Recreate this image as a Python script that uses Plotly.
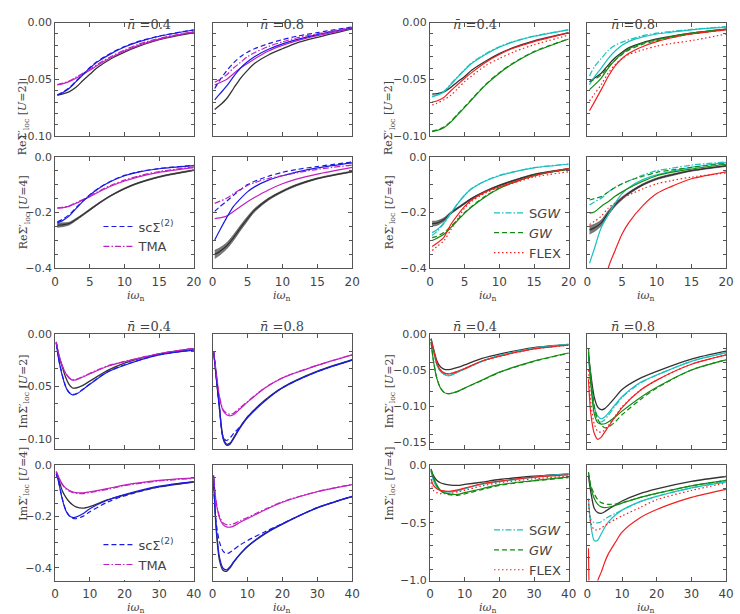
import plotly.graph_objects as go

# ---------------- frequency grids ----------------
XR = [0.31, 1, 2, 3, 4, 5, 6, 8, 10, 12, 15, 20]
XI = [0.31, 1, 2, 3, 4, 5, 6, 8, 10, 15, 20, 30, 40]

# ---------------- Re Sigma, U=2, left group ----------------
re_u2_n04_exact = [-0.0638, -0.063, -0.061, -0.057, -0.051, -0.0455, -0.040, -0.032, -0.026, -0.021, -0.0150, -0.0088]
re_u2_n04_blue = [-0.064, -0.062, -0.058, -0.052, -0.046, -0.040, -0.035, -0.0275, -0.0215, -0.017, -0.012, -0.0065]
re_u2_n04_sc2 = [-0.0635, -0.0615, -0.0575, -0.0515, -0.0455, -0.0395, -0.0345, -0.027, -0.021, -0.0165, -0.0118, -0.0063]
re_u2_n04_mag = [-0.0548, -0.054, -0.052, -0.049, -0.0455, -0.042, -0.038, -0.031, -0.025, -0.020, -0.0145, -0.0082]
re_u2_n04_tma = [-0.0545, -0.0535, -0.0515, -0.048, -0.0445, -0.041, -0.037, -0.030, -0.024, -0.019, -0.0138, -0.0078]

re_u2_n08_exact = [-0.0765, -0.073, -0.067, -0.058, -0.049, -0.042, -0.036, -0.0285, -0.023, -0.018, -0.013, -0.0055]
re_u2_n08_blue = [-0.068, -0.063, -0.056, -0.0475, -0.040, -0.0345, -0.030, -0.0235, -0.0187, -0.015, -0.0105, -0.0045]
re_u2_n08_sc2 = [-0.058, -0.051, -0.0425, -0.0355, -0.030, -0.026, -0.023, -0.0185, -0.015, -0.012, -0.0088, -0.0037]
re_u2_n08_mag = [-0.055, -0.053, -0.050, -0.045, -0.040, -0.036, -0.032, -0.025, -0.020, -0.016, -0.0115, -0.005]
re_u2_n08_tma = [-0.0525, -0.050, -0.046, -0.040, -0.035, -0.030, -0.0265, -0.021, -0.017, -0.0135, -0.0098, -0.0043]

# ---------------- Re Sigma, U=4, left group ----------------
re_u4_n04_exact = [-0.245, -0.244, -0.240, -0.225, -0.208, -0.190, -0.172, -0.140, -0.114, -0.094, -0.072, -0.048]
re_u4_n04_band = [0.008, 0.007, 0.005, 0.004, 0.003, 0.003, 0.0025, 0.002, 0.002, 0.002, 0.002, 0.002]
re_u4_n04_blue = [-0.237, -0.230, -0.213, -0.186, -0.160, -0.138, -0.118, -0.089, -0.068, -0.055, -0.043, -0.032]
re_u4_n04_sc2 = [-0.233, -0.225, -0.208, -0.183, -0.158, -0.136, -0.117, -0.088, -0.067, -0.054, -0.042, -0.031]
re_u4_n04_mag = [-0.184, -0.183, -0.178, -0.167, -0.155, -0.143, -0.130, -0.106, -0.087, -0.072, -0.056, -0.039]
re_u4_n04_tma = [-0.183, -0.181, -0.176, -0.165, -0.153, -0.140, -0.127, -0.103, -0.084, -0.069, -0.053, -0.036]

re_u4_n08_exact = [-0.350, -0.340, -0.320, -0.290, -0.255, -0.222, -0.192, -0.152, -0.124, -0.102, -0.078, -0.053]
re_u4_n08_band = [0.015, 0.013, 0.011, 0.010, 0.009, 0.008, 0.006, 0.004, 0.003, 0.003, 0.002, 0.002]
re_u4_n08_blue = [-0.298, -0.265, -0.219, -0.178, -0.150, -0.126, -0.108, -0.084, -0.068, -0.055, -0.040, -0.022]
re_u4_n08_sc2 = [-0.196, -0.180, -0.160, -0.138, -0.118, -0.100, -0.088, -0.070, -0.056, -0.046, -0.035, -0.019]
re_u4_n08_mag = [-0.222, -0.219, -0.213, -0.196, -0.178, -0.161, -0.146, -0.119, -0.097, -0.080, -0.062, -0.038]
re_u4_n08_tma = [-0.167, -0.160, -0.149, -0.132, -0.117, -0.103, -0.093, -0.078, -0.068, -0.058, -0.045, -0.030]

# ---------------- Re Sigma, U=2, right group ----------------
re_u2_n04r_exact = [-0.063, -0.0625, -0.061, -0.057, -0.052, -0.0474, -0.042, -0.034, -0.0273, -0.022, -0.016, -0.0088]
re_u2_n04r_cyan = [-0.0655, -0.064, -0.061, -0.0546, -0.048, -0.0417, -0.036, -0.028, -0.0216, -0.017, -0.012, -0.0063]
re_u2_n04r_sgw = [-0.065, -0.0635, -0.0605, -0.054, -0.0475, -0.0412, -0.0355, -0.0275, -0.0212, -0.0167, -0.0118, -0.0062]
re_u2_n04r_green = [-0.096, -0.095, -0.0925, -0.0876, -0.081, -0.0747, -0.068, -0.055, -0.0445, -0.036, -0.0259, -0.0144]
re_u2_n04r_gw = [-0.0955, -0.0945, -0.092, -0.087, -0.0805, -0.074, -0.0675, -0.0545, -0.044, -0.0355, -0.0255, -0.0142]
re_u2_n04r_red = [-0.070, -0.069, -0.066, -0.060, -0.0545, -0.049, -0.044, -0.035, -0.028, -0.0225, -0.0167, -0.009]
re_u2_n04r_flex = [-0.0725, -0.071, -0.068, -0.064, -0.058, -0.052, -0.047, -0.038, -0.0316, -0.026, -0.0195, -0.011]

re_u2_n08r_exact = [-0.052, -0.049, -0.0445, -0.0374, -0.031, -0.026, -0.022, -0.0175, -0.0144, -0.012, -0.0092, -0.0057]
re_u2_n08r_cyan = [-0.0546, -0.048, -0.040, -0.0316, -0.025, -0.020, -0.0165, -0.0125, -0.010, -0.0085, -0.0063, -0.004]
re_u2_n08r_sgw = [-0.047, -0.039, -0.0316, -0.0244, -0.020, -0.0172, -0.015, -0.0115, -0.0092, -0.0078, -0.006, -0.0034]
re_u2_n08r_green = [-0.059, -0.055, -0.0488, -0.040, -0.033, -0.0273, -0.023, -0.018, -0.015, -0.0125, -0.0092, -0.0057]
re_u2_n08r_gw = [-0.052, -0.050, -0.046, -0.0388, -0.033, -0.028, -0.024, -0.019, -0.016, -0.0133, -0.010, -0.0063]
re_u2_n08r_red = [-0.0776, -0.070, -0.059, -0.0474, -0.038, -0.0316, -0.027, -0.021, -0.0167, -0.0135, -0.010, -0.0063]
re_u2_n08r_flex = [-0.069, -0.063, -0.0546, -0.0445, -0.037, -0.0316, -0.028, -0.024, -0.0207, -0.0185, -0.0158, -0.010]

# ---------------- Re Sigma, U=4, right group ----------------
re_u4_n04r_exact = [-0.240, -0.238, -0.225, -0.202, -0.184, -0.167, -0.150, -0.124, -0.103, -0.086, -0.064, -0.044]
re_u4_n04r_band = [0.009, 0.008, 0.006, 0.004, 0.003, 0.003, 0.0025, 0.002, 0.002, 0.002, 0.002, 0.002]
re_u4_n04r_cyan = [-0.272, -0.262, -0.237, -0.202, -0.168, -0.138, -0.115, -0.087, -0.068, -0.055, -0.040, -0.027]
re_u4_n04r_sgw = [-0.282, -0.268, -0.240, -0.203, -0.168, -0.137, -0.114, -0.086, -0.067, -0.054, -0.039, -0.026]
re_u4_n04r_green = [-0.300, -0.292, -0.278, -0.254, -0.228, -0.202, -0.180, -0.143, -0.114, -0.093, -0.068, -0.044]
re_u4_n04r_gw = [-0.290, -0.285, -0.272, -0.250, -0.225, -0.200, -0.178, -0.141, -0.112, -0.091, -0.067, -0.043]
re_u4_n04r_red = [-0.322, -0.310, -0.289, -0.243, -0.208, -0.178, -0.155, -0.126, -0.108, -0.092, -0.068, -0.042]
re_u4_n04r_flex = [-0.336, -0.322, -0.301, -0.262, -0.222, -0.184, -0.160, -0.130, -0.110, -0.095, -0.073, -0.054]

re_u4_n08r_exact = [-0.262, -0.255, -0.237, -0.202, -0.172, -0.149, -0.130, -0.100, -0.079, -0.066, -0.050, -0.033]
re_u4_n08r_band = [0.015, 0.013, 0.010, 0.008, 0.006, 0.005, 0.004, 0.003, 0.003, 0.003, 0.002, 0.002]
re_u4_n08r_cyan = [-0.382, -0.330, -0.254, -0.208, -0.166, -0.132, -0.110, -0.082, -0.065, -0.053, -0.038, -0.021]
re_u4_n08r_sgw = [-0.173, -0.162, -0.149, -0.126, -0.110, -0.097, -0.086, -0.066, -0.050, -0.042, -0.030, -0.019]
re_u4_n08r_green = [-0.202, -0.198, -0.178, -0.161, -0.142, -0.126, -0.112, -0.088, -0.068, -0.056, -0.044, -0.027]
re_u4_n08r_gw = [-0.155, -0.150, -0.143, -0.126, -0.110, -0.097, -0.086, -0.070, -0.056, -0.048, -0.038, -0.024]
re_u4_n08r_red = [-0.95, -0.78, -0.56, -0.40, -0.336, -0.277, -0.235, -0.175, -0.132, -0.108, -0.079, -0.054]
re_u4_n08r_flex = [-0.243, -0.232, -0.213, -0.184, -0.165, -0.149, -0.137, -0.115, -0.097, -0.086, -0.073, -0.058]

# ---------------- Im Sigma, U=2, left group ----------------
im_u2_n04_exact = [-0.0078, -0.020, -0.031, -0.041, -0.048, -0.0515, -0.0515, -0.049, -0.045, -0.035, -0.0278, -0.019, -0.014]
im_u2_n04_blue = [-0.0085, -0.024, -0.039, -0.050, -0.056, -0.058, -0.0575, -0.053, -0.048, -0.0365, -0.0298, -0.020, -0.0155]
im_u2_n04_sc2 = [-0.0085, -0.0235, -0.0385, -0.0495, -0.0555, -0.0575, -0.057, -0.0528, -0.0478, -0.0362, -0.0295, -0.0198, -0.0153]
im_u2_n04_mag = [-0.0075, -0.019, -0.030, -0.0375, -0.042, -0.044, -0.0438, -0.041, -0.038, -0.031, -0.0265, -0.019, -0.014]
im_u2_n04_tma = [-0.0075, -0.0188, -0.0298, -0.037, -0.0415, -0.0435, -0.0433, -0.0405, -0.0375, -0.0305, -0.0262, -0.0188, -0.0138]

im_u2_n08_exact = [-0.017, -0.040, -0.072, -0.098, -0.105, -0.104, -0.099, -0.088, -0.079, -0.063, -0.051, -0.0355, -0.0245]
im_u2_n08_blue = [-0.017, -0.039, -0.070, -0.100, -0.106, -0.105, -0.100, -0.089, -0.080, -0.064, -0.0516, -0.036, -0.025]
im_u2_n08_sc2 = [-0.017, -0.039, -0.072, -0.098, -0.1015, -0.099, -0.095, -0.088, -0.079, -0.0635, -0.0512, -0.0358, -0.0248]
im_u2_n08_mag = [-0.017, -0.036, -0.061, -0.073, -0.077, -0.078, -0.077, -0.071, -0.065, -0.0516, -0.042, -0.030, -0.020]
im_u2_n08_tma = [-0.017, -0.0355, -0.060, -0.072, -0.0755, -0.0765, -0.0755, -0.070, -0.0645, -0.0512, -0.0418, -0.0298, -0.0198]

# ---------------- Im Sigma, U=4, left group ----------------
im_u4_n04_exact = [-0.028, -0.054, -0.098, -0.124, -0.142, -0.155, -0.163, -0.168, -0.162, -0.136, -0.117, -0.085, -0.066]
im_u4_n04_blue = [-0.034, -0.066, -0.130, -0.175, -0.197, -0.204, -0.203, -0.190, -0.170, -0.137, -0.115, -0.082, -0.064]
im_u4_n04_sc2 = [-0.034, -0.066, -0.128, -0.172, -0.196, -0.207, -0.209, -0.200, -0.182, -0.145, -0.120, -0.085, -0.066]
im_u4_n04_mag = [-0.025, -0.047, -0.073, -0.089, -0.098, -0.104, -0.107, -0.108, -0.104, -0.092, -0.078, -0.060, -0.050]
im_u4_n04_tma = [-0.025, -0.047, -0.075, -0.091, -0.101, -0.107, -0.110, -0.111, -0.107, -0.095, -0.080, -0.062, -0.052]

im_u4_n08_exact = [-0.050, -0.245, -0.372, -0.410, -0.414, -0.400, -0.380, -0.346, -0.318, -0.268, -0.230, -0.167, -0.123]
im_u4_n08_blue = [-0.040, -0.230, -0.360, -0.402, -0.408, -0.396, -0.377, -0.344, -0.316, -0.266, -0.229, -0.166, -0.122]
im_u4_n08_sc2 = [-0.080, -0.220, -0.300, -0.335, -0.345, -0.340, -0.330, -0.310, -0.294, -0.260, -0.228, -0.166, -0.122]
im_u4_n08_mag = [-0.047, -0.143, -0.206, -0.232, -0.241, -0.242, -0.238, -0.222, -0.209, -0.175, -0.145, -0.104, -0.076]
im_u4_n08_tma = [-0.047, -0.140, -0.200, -0.225, -0.232, -0.232, -0.229, -0.216, -0.204, -0.172, -0.143, -0.103, -0.075]

# ---------------- Im Sigma, U=2, right group ----------------
im_u2_n04r_exact = [-0.0066, -0.020, -0.0376, -0.0456, -0.0487, -0.0496, -0.049, -0.0465, -0.043, -0.034, -0.0279, -0.019, -0.0146]
im_u2_n04r_cyan = [-0.007, -0.023, -0.043, -0.052, -0.056, -0.058, -0.0575, -0.053, -0.0487, -0.038, -0.030, -0.020, -0.0146]
im_u2_n04r_sgw = [-0.007, -0.0228, -0.0425, -0.0515, -0.0555, -0.0575, -0.057, -0.0528, -0.0485, -0.0378, -0.0298, -0.0198, -0.0145]
im_u2_n04r_green = [-0.011, -0.0376, -0.062, -0.075, -0.081, -0.0827, -0.0825, -0.0796, -0.075, -0.064, -0.053, -0.0376, -0.0265]
im_u2_n04r_gw = [-0.011, -0.037, -0.0615, -0.0745, -0.0805, -0.0825, -0.0823, -0.0796, -0.0752, -0.0645, -0.0535, -0.038, -0.0268]
im_u2_n04r_red = [-0.007, -0.022, -0.041, -0.050, -0.054, -0.0553, -0.055, -0.0518, -0.048, -0.0376, -0.031, -0.0208, -0.0155]
im_u2_n04r_flex = [-0.007, -0.022, -0.0405, -0.0495, -0.0535, -0.055, -0.0548, -0.052, -0.0482, -0.0378, -0.0312, -0.021, -0.0158]

im_u2_n08r_exact = [-0.027, -0.0565, -0.088, -0.1015, -0.105, -0.1035, -0.099, -0.088, -0.077, -0.062, -0.052, -0.035, -0.024]
im_u2_n08r_cyan = [-0.029, -0.0655, -0.1015, -0.114, -0.1175, -0.115, -0.110, -0.098, -0.087, -0.068, -0.057, -0.038, -0.026]
im_u2_n08r_sgw = [-0.029, -0.068, -0.106, -0.119, -0.122, -0.119, -0.113, -0.100, -0.088, -0.069, -0.057, -0.038, -0.026]
im_u2_n08r_green = [-0.025, -0.070, -0.111, -0.123, -0.125, -0.1245, -0.122, -0.115, -0.107, -0.089, -0.074, -0.050, -0.036]
im_u2_n08r_gw = [-0.020, -0.060, -0.100, -0.118, -0.126, -0.130, -0.129, -0.122, -0.112, -0.092, -0.075, -0.050, -0.036]
im_u2_n08r_red = [-0.063, -0.111, -0.138, -0.146, -0.143, -0.136, -0.129, -0.115, -0.102, -0.079, -0.064, -0.042, -0.029]
im_u2_n08r_flex = [-0.050, -0.095, -0.125, -0.135, -0.136, -0.133, -0.127, -0.114, -0.101, -0.079, -0.064, -0.042, -0.029]

# ---------------- Im Sigma, U=4, right group ----------------
im_u4_n04r_exact = [-0.048, -0.091, -0.134, -0.153, -0.163, -0.170, -0.174, -0.176, -0.168, -0.148, -0.125, -0.097, -0.077]
im_u4_n04r_cyan = [-0.048, -0.134, -0.190, -0.219, -0.230, -0.233, -0.232, -0.222, -0.205, -0.165, -0.142, -0.105, -0.077]
im_u4_n04r_sgw = [-0.050, -0.130, -0.185, -0.215, -0.228, -0.232, -0.231, -0.221, -0.204, -0.164, -0.141, -0.104, -0.078]
im_u4_n04r_green = [-0.034, -0.105, -0.176, -0.219, -0.238, -0.247, -0.252, -0.254, -0.239, -0.205, -0.170, -0.134, -0.105]
im_u4_n04r_gw = [-0.034, -0.105, -0.176, -0.220, -0.242, -0.253, -0.258, -0.262, -0.250, -0.212, -0.176, -0.137, -0.108]
im_u4_n04r_red = [-0.119, -0.176, -0.205, -0.219, -0.224, -0.227, -0.226, -0.215, -0.199, -0.162, -0.139, -0.105, -0.085]
im_u4_n04r_flex = [-0.148, -0.219, -0.239, -0.247, -0.248, -0.247, -0.244, -0.232, -0.219, -0.180, -0.153, -0.119, -0.097]

im_u4_n08r_exact = [-0.093, -0.234, -0.376, -0.412, -0.418, -0.404, -0.384, -0.347, -0.311, -0.249, -0.206, -0.141, -0.099]
im_u4_n08r_cyan = [-0.290, -0.520, -0.655, -0.650, -0.595, -0.540, -0.495, -0.435, -0.390, -0.319, -0.271, -0.198, -0.145]
im_u4_n08r_sgw = [-0.330, -0.470, -0.500, -0.500, -0.490, -0.470, -0.450, -0.420, -0.390, -0.320, -0.271, -0.198, -0.145]
im_u4_n08r_green = [-0.065, -0.192, -0.291, -0.340, -0.362, -0.368, -0.365, -0.350, -0.330, -0.282, -0.245, -0.180, -0.133]
im_u4_n08r_gw = [-0.060, -0.180, -0.250, -0.300, -0.325, -0.336, -0.340, -0.337, -0.325, -0.282, -0.245, -0.180, -0.133]
im_u4_n08r_red = [-0.72, -1.35, -1.20, -1.00, -0.927, -0.842, -0.771, -0.672, -0.580, -0.460, -0.385, -0.280, -0.210]
im_u4_n08r_flex = [-0.300, -0.500, -0.560, -0.560, -0.545, -0.525, -0.505, -0.470, -0.440, -0.370, -0.300, -0.220, -0.155]

# ---------------- styling ----------------
C_EXACT = "#333333"
C_BLUE = "#1a1ae6"
C_MAG = "#c020c0"
C_CYAN = "#19c0c0"
C_GREEN = "#138a13"
C_RED = "#f02020"
DASH = "5px,3px"
DASHDOT = "6px,2px,1.5px,2px"
DOT = "1.5px,2.5px"
FRAME = "#555555"
TXT = "#444444"

W, H = 740, 614
COLS_PX = [(52, 193), (212, 354), (433, 574), (593, 734)]
ROWS_PX = [(17, 133), (154, 268), (335, 453), (469, 587)]

fig = go.Figure()


def ax_id(row, col):
    n = row * 4 + col + 1
    return ("x" if n == 1 else f"x{n}"), ("y" if n == 1 else f"y{n}")


def line(row, col, x, y, color, dash="solid", width=1.2, name=None, legend=None):
    xa, ya = ax_id(row, col)
    kw = dict(legend=legend) if legend else {}
    fig.add_trace(go.Scatter(
        x=x, y=y, xaxis=xa, yaxis=ya, mode="lines",
        line=dict(color=color, width=width, dash=dash, shape="spline", smoothing=0.8),
        name=name or "", showlegend=legend is not None, hoverinfo="skip", **kw))


def band(row, col, x, y, hw):
    xa, ya = ax_id(row, col)
    lo = [a - b for a, b in zip(y, hw)]
    hi = [a + b for a, b in zip(y, hw)]
    fig.add_trace(go.Scatter(x=x, y=lo, xaxis=xa, yaxis=ya, mode="lines",
                             line=dict(color="rgba(60,60,60,0.9)", width=0.6, shape="spline", smoothing=0.8),
                             showlegend=False, hoverinfo="skip"))
    fig.add_trace(go.Scatter(x=x, y=hi, xaxis=xa, yaxis=ya, mode="lines", fill="tonexty",
                             fillcolor="rgba(90,90,90,0.8)",
                             line=dict(color="rgba(60,60,60,0.9)", width=0.6, shape="spline", smoothing=0.8),
                             showlegend=False, hoverinfo="skip"))


def left_panel(row, col, x, exact, blue, sc2, mag, tma, hw=None, leg=None):
    if hw:
        band(row, col, x, exact, hw)
    line(row, col, x, exact, C_EXACT, width=1.3)
    line(row, col, x, mag, C_MAG)
    line(row, col, x, blue, C_BLUE)
    line(row, col, x, sc2, C_BLUE, DASH, name="scΣ<sup>(2)</sup>" if leg else None, legend=leg)
    line(row, col, x, tma, C_MAG, DASHDOT, name="TMA" if leg else None, legend=leg)


def right_panel(row, col, x, exact, cyan, sgw, green, gw, red, flex, hw=None, leg=None):
    if hw:
        band(row, col, x, exact, hw)
    line(row, col, x, exact, C_EXACT, width=1.3)
    line(row, col, x, cyan, C_CYAN)
    line(row, col, x, sgw, C_CYAN, DASHDOT, name="S<i>GW</i>" if leg else None, legend=leg)
    line(row, col, x, green, C_GREEN)
    line(row, col, x, gw, C_GREEN, DASH, name="<i>GW</i>" if leg else None, legend=leg)
    line(row, col, x, red, C_RED)
    line(row, col, x, flex, C_RED, DOT, name="FLEX" if leg else None, legend=leg)


# Row 0: Re, U=2 ; Row 1: Re, U=4 ; Row 2: Im, U=2 ; Row 3: Im, U=4
left_panel(0, 0, XR, re_u2_n04_exact, re_u2_n04_blue, re_u2_n04_sc2, re_u2_n04_mag, re_u2_n04_tma)
left_panel(0, 1, XR, re_u2_n08_exact, re_u2_n08_blue, re_u2_n08_sc2, re_u2_n08_mag, re_u2_n08_tma)
left_panel(1, 0, XR, re_u4_n04_exact, re_u4_n04_blue, re_u4_n04_sc2, re_u4_n04_mag, re_u4_n04_tma, re_u4_n04_band, "legend")
left_panel(1, 1, XR, re_u4_n08_exact, re_u4_n08_blue, re_u4_n08_sc2, re_u4_n08_mag, re_u4_n08_tma, re_u4_n08_band)
left_panel(2, 0, XI, im_u2_n04_exact, im_u2_n04_blue, im_u2_n04_sc2, im_u2_n04_mag, im_u2_n04_tma)
left_panel(2, 1, XI, im_u2_n08_exact, im_u2_n08_blue, im_u2_n08_sc2, im_u2_n08_mag, im_u2_n08_tma)
left_panel(3, 0, XI, im_u4_n04_exact, im_u4_n04_blue, im_u4_n04_sc2, im_u4_n04_mag, im_u4_n04_tma, None, "legend3")
left_panel(3, 1, XI, im_u4_n08_exact, im_u4_n08_blue, im_u4_n08_sc2, im_u4_n08_mag, im_u4_n08_tma)

right_panel(0, 2, XR, re_u2_n04r_exact, re_u2_n04r_cyan, re_u2_n04r_sgw, re_u2_n04r_green, re_u2_n04r_gw, re_u2_n04r_red, re_u2_n04r_flex)
right_panel(0, 3, XR, re_u2_n08r_exact, re_u2_n08r_cyan, re_u2_n08r_sgw, re_u2_n08r_green, re_u2_n08r_gw, re_u2_n08r_red, re_u2_n08r_flex)
right_panel(1, 2, XR, re_u4_n04r_exact, re_u4_n04r_cyan, re_u4_n04r_sgw, re_u4_n04r_green, re_u4_n04r_gw, re_u4_n04r_red, re_u4_n04r_flex, re_u4_n04r_band, "legend2")
right_panel(1, 3, XR, re_u4_n08r_exact, re_u4_n08r_cyan, re_u4_n08r_sgw, re_u4_n08r_green, re_u4_n08r_gw, re_u4_n08r_red, re_u4_n08r_flex, re_u4_n08r_band)
right_panel(2, 2, XI, im_u2_n04r_exact, im_u2_n04r_cyan, im_u2_n04r_sgw, im_u2_n04r_green, im_u2_n04r_gw, im_u2_n04r_red, im_u2_n04r_flex)
right_panel(2, 3, XI, im_u2_n08r_exact, im_u2_n08r_cyan, im_u2_n08r_sgw, im_u2_n08r_green, im_u2_n08r_gw, im_u2_n08r_red, im_u2_n08r_flex)
right_panel(3, 2, XI, im_u4_n04r_exact, im_u4_n04r_cyan, im_u4_n04r_sgw, im_u4_n04r_green, im_u4_n04r_gw, im_u4_n04r_red, im_u4_n04r_flex, None, "legend4")
right_panel(3, 3, XI, im_u4_n08r_exact, im_u4_n08r_cyan, im_u4_n08r_sgw, im_u4_n08r_green, im_u4_n08r_gw, im_u4_n08r_red, im_u4_n08r_flex)

# ---------------- axes ----------------
Y_SPECS = {
    (0, 0): ([-0.10, 0.0], [0.0, -0.05, -0.10], ".2f", 0.01),
    (0, 1): ([-0.10, 0.0], [0.0, -0.05, -0.10], ".2f", 0.01),
    (1, 0): ([-0.40, 0.0], [0.0, -0.2, -0.4], ".1f", 0.05),
    (1, 1): ([-0.40, 0.0], [0.0, -0.2, -0.4], ".1f", 0.05),
    (2, 0): ([-0.11, 0.0], [0.0, -0.05, -0.10], ".2f", 0.05 / 3),
    (2, 1): ([-0.16, 0.0], [0.0, -0.05, -0.10, -0.15], ".2f", 0.02),
    (3, 0): ([-0.45, 0.0], [0.0, -0.2, -0.4], ".1f", 0.05),
    (3, 1): ([-1.0, 0.0], [0.0, -0.5, -1.0], ".1f", 0.1),
}

layout = dict(width=W, height=H, margin=dict(l=0, r=0, t=0, b=0),
              paper_bgcolor="white", plot_bgcolor="white",
              font=dict(family="DejaVu Sans", size=12, color=TXT))

for r in range(4):
    for c in range(4):
        n = r * 4 + c + 1
        xk = "xaxis" if n == 1 else f"xaxis{n}"
        yk = "yaxis" if n == 1 else f"yaxis{n}"
        x0, x1 = COLS_PX[c]
        y0, y1 = ROWS_PX[r]
        is_re = r < 2
        xr = [0, 20] if is_re else [0, 40]
        xdt = 5 if is_re else 10
        yrng, yticks, fmt, mdt = Y_SPECS[(r, c // 2)]
        common = dict(showline=True, linecolor=FRAME, linewidth=1, mirror="ticks",
                      ticks="inside", ticklen=4, tickcolor=FRAME, tickwidth=1,
                      showgrid=False, zeroline=False)
        layout[xk] = dict(common, domain=[x0 / W, x1 / W], range=xr, dtick=xdt, tick0=0,
                          anchor=ax_id(r, c)[1], ticklabelstandoff=2,
                          tickfont=dict(family="DejaVu Sans", size=12, color=TXT),
                          showticklabels=(r in (1, 3)))
        layout[yk] = dict(common, domain=[1 - y1 / H, 1 - y0 / H], range=yrng,
                          tickvals=yticks, tickformat=fmt,
                          tickfont=dict(family="DejaVu Sans", size=11, color=TXT),
                          minor=dict(ticks="inside", ticklen=3, tickcolor=FRAME, dtick=mdt, tick0=0),
                          anchor=ax_id(r, c)[0],
                          showticklabels=(c in (0, 2)))

leg_common = dict(bgcolor="rgba(0,0,0,0)", borderwidth=0, font=dict(family="DejaVu Sans", size=13, color=TXT),
                  xanchor="left", yanchor="top", itemwidth=30, tracegroupgap=0, traceorder="normal")
layout["legend"] = dict(leg_common, x=96 / W, y=1 - 210 / H)
layout["legend2"] = dict(leg_common, x=493 / W, y=1 - 196 / H)
layout["legend3"] = dict(leg_common, x=96 / W, y=1 - 535 / H, bgcolor="white")
layout["legend4"] = dict(leg_common, x=493 / W, y=1 - 520 / H)

fig.update_layout(**layout)

# ---------------- text annotations ----------------
SERIF = "DejaVu Serif"
ann = []
for r in (0, 2):
    ytop = ROWS_PX[r][0]
    for c in range(4):
        x0, x1 = COLS_PX[c]
        ann.append(dict(text="<i>n̄</i> =0.4" if c % 2 == 0 else "<i>n̄</i> =0.8",
                        x=(x0 + x1) / 2 / W, y=1 - (ytop - 8) / H, xref="paper", yref="paper",
                        showarrow=False, font=dict(family=SERIF, size=13, color=TXT)))
for r in (1, 3):
    ybot = ROWS_PX[r][1]
    for c in range(4):
        x0, x1 = COLS_PX[c]
        ann.append(dict(text="<i>iω</i><sub>n</sub>", x=(x0 + x1) / 2 / W, y=1 - (ybot + 19) / H,
                        xref="paper", yref="paper", showarrow=False, yanchor="top",
                        font=dict(family=SERIF, size=11, color=TXT)))
ylabels = ["ReΣ′<sub>loc</sub> [<i>U</i>=2]", "ReΣ′<sub>loc</sub> [<i>U</i>=4]",
           "ImΣ′<sub>loc</sub> [<i>U</i>=2]", "ImΣ′<sub>loc</sub> [<i>U</i>=4]"]
for r in range(4):
    y0, y1 = ROWS_PX[r]
    for xp in (11, 392):
        ann.append(dict(text=ylabels[r], x=xp / W, y=1 - (y0 + y1) / 2 / H, xref="paper", yref="paper",
                        showarrow=False, textangle=-90, font=dict(family=SERIF, size=11, color=TXT)))
fig.update_layout(annotations=ann)

fig.write_html("out.html")
